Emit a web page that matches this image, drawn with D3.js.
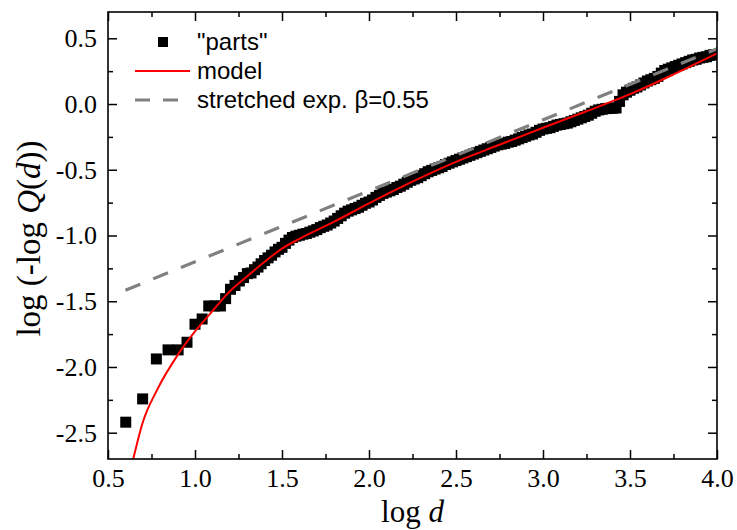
<!DOCTYPE html>
<html>
<head>
<meta charset="utf-8">
<script src="https://cdn.jsdelivr.net/npm/d3@7/dist/d3.min.js"></script>
<style>
  html, body { margin: 0; padding: 0; background: #fff; }
  svg { display: block; }
</style>
</head>
<body>
<svg id="chart" width="737" height="530"></svg>
<script>
// "parts": log d and log(-log Q(d))
const partsX = [
  0.602, 0.699, 0.778, 0.845, 0.903, 0.954, 1.000, 1.041, 1.079, 1.114, 1.146, 1.176,
  1.204, 1.230, 1.255, 1.279, 1.301, 1.322, 1.342, 1.362, 1.380,
  1.40, 1.42, 1.44, 1.46, 1.48, 1.50, 1.52, 1.54, 1.56, 1.58, 1.60, 1.62, 1.64, 1.66, 1.68,
  1.70, 1.72, 1.74, 1.76, 1.78, 1.80, 1.82, 1.84, 1.86, 1.88, 1.90, 1.92, 1.94, 1.96, 1.98,
  2.00, 2.02, 2.04, 2.06, 2.08, 2.10, 2.12, 2.14, 2.16, 2.18, 2.20, 2.22, 2.24, 2.26, 2.28,
  2.30, 2.32, 2.34, 2.36, 2.38, 2.40, 2.42, 2.44, 2.46, 2.48, 2.50, 2.52, 2.54, 2.56, 2.58,
  2.60, 2.62, 2.64, 2.66, 2.68, 2.70, 2.72, 2.74, 2.76, 2.78, 2.80, 2.82, 2.84, 2.86, 2.88,
  2.90, 2.92, 2.94, 2.96, 2.98, 3.00, 3.02, 3.04, 3.06, 3.08, 3.10, 3.12, 3.14, 3.16, 3.18,
  3.20, 3.22, 3.24, 3.26, 3.28, 3.30, 3.32, 3.34, 3.36, 3.38, 3.40, 3.42, 3.44, 3.46, 3.48,
  3.50, 3.52, 3.54, 3.56, 3.58, 3.60, 3.62, 3.64, 3.66, 3.68, 3.70, 3.72, 3.74, 3.76, 3.78,
  3.80, 3.82, 3.84, 3.86, 3.88, 3.90, 3.92, 3.94, 3.96, 3.98
];
const partsY = [
  -2.420, -2.243, -1.939, -1.870, -1.870, -1.812, -1.675, -1.635, -1.536, -1.536, -1.536, -1.480,
  -1.409, -1.380, -1.346, -1.320, -1.290, -1.285, -1.260, -1.240, -1.215,
  -1.190, -1.170, -1.150, -1.125, -1.105, -1.090, -1.060, -1.035, -1.015, -1.005, -0.998, -0.990, -0.985, -0.975, -0.965,
  -0.955, -0.940, -0.930, -0.920, -0.905, -0.890, -0.870, -0.850, -0.830, -0.815, -0.805, -0.795, -0.785, -0.770, -0.755,
  -0.745, -0.730, -0.710, -0.695, -0.680, -0.670, -0.660, -0.650, -0.635, -0.625, -0.610, -0.595, -0.580, -0.570, -0.560,
  -0.545, -0.530, -0.515, -0.505, -0.495, -0.485, -0.475, -0.460, -0.450, -0.440, -0.430, -0.420, -0.410, -0.400, -0.390,
  -0.380, -0.370, -0.360, -0.350, -0.340, -0.330, -0.320, -0.310, -0.305, -0.300, -0.290, -0.285, -0.275, -0.265, -0.255,
  -0.245, -0.235, -0.228, -0.215, -0.200, -0.190, -0.185, -0.180, -0.170, -0.160, -0.155, -0.150, -0.145, -0.135, -0.125,
  -0.115, -0.105, -0.095, -0.085, -0.070, -0.055, -0.045, -0.040, -0.035, -0.033, -0.032, -0.030, 0.020, 0.070, 0.090,
  0.105, 0.120, 0.130, 0.145, 0.160, 0.175, 0.185, 0.195, 0.210, 0.235, 0.255, 0.265, 0.275, 0.285, 0.295,
  0.305, 0.315, 0.325, 0.335, 0.340, 0.350, 0.355, 0.360, 0.370, 0.375
];

// model curve
const modelX = [0.645, 0.70, 0.78, 0.90, 1.00, 1.10, 1.20, 1.30, 1.40, 1.50, 1.60, 1.80, 2.00, 2.25, 2.50, 2.75, 3.00, 3.25, 3.50, 3.75, 4.00];
const modelY = [-2.70, -2.42, -2.18, -1.91, -1.73, -1.575, -1.425, -1.31, -1.20, -1.10, -1.025, -0.895, -0.755, -0.59, -0.44, -0.31, -0.18, -0.055, 0.075, 0.225, 0.385];

// stretched exponential, beta = 0.55 (straight line in these coordinates)
const stretchedX = [0.60, 4.00];
const stretchedY = [-1.416, 0.420];

const xTicks = [0.5, 1.0, 1.5, 2.0, 2.5, 3.0, 3.5, 4.0];
const yTicks = [-2.5, -2.0, -1.5, -1.0, -0.5, 0.0, 0.5];
const xMinor = [0.75, 1.25, 1.75, 2.25, 2.75, 3.25, 3.75];
const yMinor = [-2.25, -1.75, -1.25, -0.75, -0.25, 0.25];

const legendLabels = ['"parts"', 'model', 'stretched exp. \u03b2=0.55'];

const svg = d3.select("#chart");
const box = { left: 108, right: 717, top: 12, bottom: 459 };

const x = d3.scaleLinear().domain([0.5, 4.0]).range([box.left, box.right]);
const y = d3.scaleLinear().domain([-2.7, 0.7]).range([box.bottom, box.top]);

const serif = "'Liberation Serif', 'Times New Roman', serif";
const sans = "'Liberation Sans', Arial, sans-serif";

// one decimal, plain hyphen for negatives
const fmt = v => v.toFixed(1).replace("\u2212", "-");

// clip marks to the plotting area
svg.append("defs").append("clipPath").attr("id", "plotClip")
  .append("rect").attr("x", box.left).attr("y", box.top)
  .attr("width", box.right - box.left).attr("height", box.bottom - box.top);

const plot = svg.append("g").attr("clip-path", "url(#plotClip)");

// data squares
const sq = 11;
plot.append("g").selectAll("rect")
  .data(partsX.map((v, i) => [v, partsY[i]]))
  .join("rect")
  .attr("x", d => x(d[0]) - sq / 2)
  .attr("y", d => y(d[1]) - sq / 2)
  .attr("width", sq).attr("height", sq)
  .attr("fill", "#000");

// stretched exponential (dashed)
plot.append("path")
  .datum(stretchedX.map((v, i) => [v, stretchedY[i]]))
  .attr("d", d3.line().x(d => x(d[0])).y(d => y(d[1])))
  .attr("fill", "none").attr("stroke", "#808080")
  .attr("stroke-width", 3.2).attr("stroke-dasharray", "16,14");

// model (red)
plot.append("path")
  .datum(modelX.map((v, i) => [v, modelY[i]]))
  .attr("d", d3.line().curve(d3.curveMonotoneX).x(d => x(d[0])).y(d => y(d[1])))
  .attr("fill", "none").attr("stroke", "#ff0000").attr("stroke-width", 2);

// axes with inward ticks on all four sides
function styleAxis(g) {
  g.select(".domain").remove();
  g.selectAll("line").attr("stroke", "#000").attr("stroke-width", 1.5);
}

svg.append("g").attr("transform", `translate(0,${box.bottom})`)
  .call(d3.axisBottom(x).tickValues(xTicks).tickSize(-9).tickPadding(10).tickFormat(fmt))
  .call(styleAxis)
  .call(g => g.selectAll("text").attr("font-family", serif).attr("font-size", 26).attr("fill", "#000"));
svg.append("g").attr("transform", `translate(0,${box.bottom})`)
  .call(d3.axisBottom(x).tickValues(xMinor).tickSize(-5).tickFormat(""))
  .call(styleAxis);

svg.append("g").attr("transform", `translate(0,${box.top})`)
  .call(d3.axisTop(x).tickValues(xTicks).tickSize(-9).tickFormat(""))
  .call(styleAxis);
svg.append("g").attr("transform", `translate(0,${box.top})`)
  .call(d3.axisTop(x).tickValues(xMinor).tickSize(-5).tickFormat(""))
  .call(styleAxis);

svg.append("g").attr("transform", `translate(${box.left},0)`)
  .call(d3.axisLeft(y).tickValues(yTicks).tickSize(-9).tickPadding(11).tickFormat(fmt))
  .call(styleAxis)
  .call(g => g.selectAll("text").attr("font-family", serif).attr("font-size", 26).attr("fill", "#000"));
svg.append("g").attr("transform", `translate(${box.left},0)`)
  .call(d3.axisLeft(y).tickValues(yMinor).tickSize(-5).tickFormat(""))
  .call(styleAxis);

svg.append("g").attr("transform", `translate(${box.right},0)`)
  .call(d3.axisRight(y).tickValues(yTicks).tickSize(-9).tickFormat(""))
  .call(styleAxis);
svg.append("g").attr("transform", `translate(${box.right},0)`)
  .call(d3.axisRight(y).tickValues(yMinor).tickSize(-5).tickFormat(""))
  .call(styleAxis);

// frame
svg.append("rect")
  .attr("x", box.left).attr("y", box.top)
  .attr("width", box.right - box.left).attr("height", box.bottom - box.top)
  .attr("fill", "none").attr("stroke", "#000").attr("stroke-width", 1.6);

// axis titles
const xt = svg.append("text")
  .attr("x", (box.left + box.right) / 2).attr("y", 522)
  .attr("text-anchor", "middle")
  .attr("font-family", serif).attr("font-size", 31).attr("fill", "#000");
xt.append("tspan").text("log ");
xt.append("tspan").attr("font-style", "italic").text("d");

const yt = svg.append("text")
  .attr("transform", `translate(40,${(box.top + box.bottom) / 2 + 3}) rotate(-90)`)
  .attr("text-anchor", "middle")
  .attr("font-family", serif).attr("font-size", 33).attr("fill", "#000");
yt.append("tspan").text("log (-log ");
yt.append("tspan").attr("font-style", "italic").text("Q");
yt.append("tspan").text("(");
yt.append("tspan").attr("font-style", "italic").text("d");
yt.append("tspan").text("))");

// legend
const lg = svg.append("g").attr("font-family", sans).attr("font-size", 24).attr("fill", "#000");
const rowY = [42, 71, 100];
lg.append("rect").attr("x", 158).attr("y", rowY[0] - 5).attr("width", 10).attr("height", 10).attr("fill", "#000");
lg.append("line").attr("x1", 135).attr("x2", 190).attr("y1", rowY[1]).attr("y2", rowY[1])
  .attr("stroke", "#ff0000").attr("stroke-width", 2);
lg.append("line").attr("x1", 135).attr("x2", 180).attr("y1", rowY[2]).attr("y2", rowY[2])
  .attr("stroke", "#808080").attr("stroke-width", 3.2).attr("stroke-dasharray", "15,13");
legendLabels.forEach((t, i) => {
  lg.append("text").attr("x", 197).attr("y", rowY[i] + 8).text(t);
});
</script>
</body>
</html>
